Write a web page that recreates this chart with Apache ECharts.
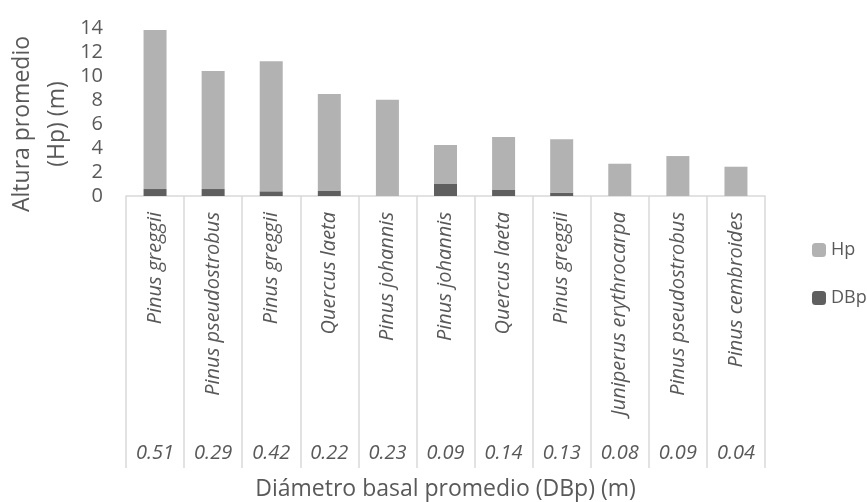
<!DOCTYPE html>
<html>
<head>
<meta charset="utf-8">
<script src="https://cdn.jsdelivr.net/npm/echarts@6/dist/echarts.min.js"></script>
<style>html,body{margin:0;padding:0;background:#fff}#c{width:867px;height:502px}</style>
</head>
<body>
<div id="c"></div>
<script>
var species = ['Pinus greggii','Pinus pseudostrobus','Pinus greggii','Quercus laeta','Pinus johannis','Pinus johannis','Quercus laeta','Pinus greggii','Juniperus erythrocarpa','Pinus pseudostrobus','Pinus cembroides'];
var dbpLabels = ['0.51','0.29','0.42','0.22','0.23','0.09','0.14','0.13','0.08','0.09','0.04'];
var dbpValues = [0.58,0.58,0.39,0.42,0,1.0,0.5,0.28,0,0,0];
var hpValues = [13.25,9.84,10.83,8.08,8.03,3.25,4.42,4.44,2.69,3.33,2.44];
var yTicks = {min:0,max:14,interval:2};
var yTitle = 'Altura promedio\n(Hp) (m)';

var chart = echarts.init(document.getElementById('c'));
var font = '"Open Sans", sans-serif';
var txt = '#595959';
chart.setOption({
  animation:false,
  textStyle:{fontFamily:font},
  grid:{left:126,right:102,top:28,bottom:306,containLabel:false,outerBoundsMode:'none'},
  legend:{
    orient:'vertical', left:807, top:236, itemWidth:14, itemHeight:14, itemGap:30,
    data:['Hp','DBp'], textStyle:{fontSize:18,color:txt,fontFamily:font}
  },
  graphic:[{
    type:'text', x:40, y:124, rotation:Math.PI/2,
    style:{text:yTitle, fill:txt, font:'23px "Open Sans", sans-serif', lineHeight:35, align:'center', verticalAlign:'middle'}
  }],
  xAxis:[{
    type:'category', data:species, position:'bottom',
    axisLine:{lineStyle:{color:'#d9d9d9',width:1.5}},
    axisTick:{show:true,length:272,interval:0,alignWithLabel:false,lineStyle:{color:'#d9d9d9',width:1.5}},
    axisLabel:{interval:0,rotate:90,margin:16,fontSize:20,fontStyle:'italic',color:txt,fontFamily:font},
    name:'Diámetro basal promedio (DBp) (m)', nameLocation:'middle', nameGap:282,
    nameTextStyle:{fontSize:23,color:txt,fontFamily:font}
  },{
    type:'category', data:dbpLabels, position:'bottom',
    axisLine:{show:false}, axisTick:{show:false},
    axisLabel:{interval:0,margin:247,fontSize:20,fontStyle:'italic',color:txt,fontFamily:font}
  }],
  yAxis:{
    type:'value', min:yTicks.min, max:yTicks.max, interval:yTicks.interval,
    axisLine:{show:false}, axisTick:{show:false}, splitLine:{show:false},
    axisLabel:{fontSize:20,color:txt,margin:23,fontFamily:font}
  },
  series:[
    {name:'DBp',type:'bar',stack:'a',data:dbpValues,barWidth:23,itemStyle:{color:'#5f5f5f'}},
    {name:'Hp',type:'bar',stack:'a',data:hpValues,barWidth:23,itemStyle:{color:'#b2b2b2'}}
  ]
});
</script>
</body>
</html>
